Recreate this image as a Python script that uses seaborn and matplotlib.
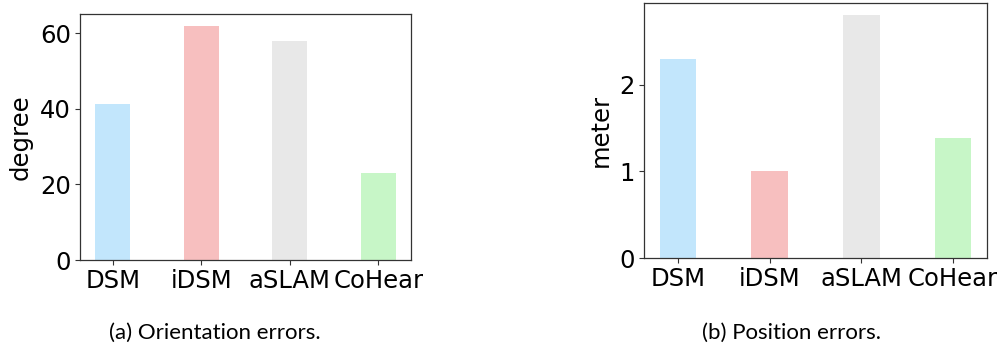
import matplotlib
matplotlib.use("Agg")
import matplotlib.pyplot as plt
import seaborn as sns
import pandas as pd

methods = ["DSM", "iDSM", "aSLAM", "CoHear"]
orientation_err = [41.3, 62.0, 58.0, 23.0]   # degree
position_err = [2.30, 1.00, 2.80, 1.38]       # meter
bar_colors = ["#87CEFA", "#F08080", "#D3D3D3", "#90EE90"]

sns.set_theme(style="ticks")
plt.rcParams["font.family"] = ["DejaVu Sans"]
plt.rcParams.update({"text.color": "black", "axes.labelcolor": "black",
                     "xtick.color": "black", "ytick.color": "black"})

W, H = 1001, 350
fig = plt.figure(figsize=(W / 100, H / 100), dpi=100)


def px_axes(left, top, right, bottom):
    return fig.add_axes([left / W, 1 - bottom / H, (right - left) / W, (bottom - top) / H])


def draw(ax, values, ylabel, yticks):
    df = pd.DataFrame({"method": methods, "value": values})
    sns.barplot(data=df, x="method", y="value", hue="method", palette=bar_colors,
                width=0.4, saturation=1, alpha=0.5, linewidth=0, legend=False, ax=ax)
    ax.set_xlim(-0.37, 3.37)
    ax.set_ylim(0, max(values) * 1.05)
    ax.set_yticks(yticks)
    ax.set_xlabel("")
    ax.set_ylabel(ylabel, fontsize=17.5, labelpad=5)
    ax.tick_params(axis="both", labelsize=17.5, length=3.5, width=0.8, color="#333333",
                   pad=3, direction="out")
    for s in ax.spines.values():
        s.set_color("#333333")
        s.set_linewidth(0.9)


ax1 = px_axes(80, 14, 411, 260)
draw(ax1, orientation_err, "degree", [0, 20, 40, 60])

ax2 = px_axes(644, 3, 987, 258)
draw(ax2, position_err, "meter", [0, 1, 2])

fig.text(215 / W, 1 - 333 / H, "(a) Orientation errors.", ha="center", va="center",
         fontsize=16, family=["Lato", "DejaVu Sans"])
fig.text(792 / W, 1 - 333 / H, "(b) Position errors.", ha="center", va="center",
         fontsize=16, family=["Lato", "DejaVu Sans"])

fig.savefig("out.png", dpi=100)
